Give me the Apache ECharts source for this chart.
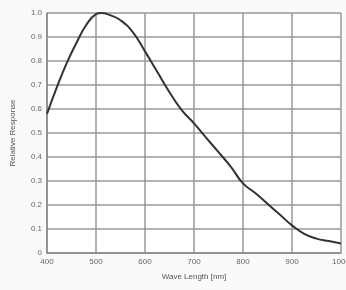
<!DOCTYPE html>
<html>
<head>
<meta charset="utf-8">
<script src="https://cdn.jsdelivr.net/npm/echarts@6/dist/echarts.min.js"></script>
<style>
  html, body { margin: 0; padding: 0; background: #fafafa; }
  #chart { width: 346px; height: 290px; }
</style>
</head>
<body>
<div id="chart"></div>
<script>
// wavelength (nm) and relative response
var waveLength = [400, 420, 440, 460, 480, 500, 510, 530, 550, 575, 600, 625, 650, 675, 700, 725, 750, 775, 800, 825, 850, 875, 900, 925, 950, 975, 1000];
var response = [0.58, 0.69, 0.79, 0.875, 0.95, 0.995, 1.0, 0.99, 0.97, 0.92, 0.84, 0.755, 0.67, 0.595, 0.54, 0.48, 0.42, 0.36, 0.29, 0.25, 0.205, 0.16, 0.115, 0.08, 0.06, 0.05, 0.04];
var yTickLabels = ['0', '0.1', '0.2', '0.3', '0.4', '0.5', '0.6', '0.7', '0.8', '0.9', '1.0'];

var points = [];
for (var i = 0; i < waveLength.length; i++) {
  points.push([waveLength[i], response[i]]);
}

var chart = echarts.init(document.getElementById('chart'));
chart.setOption({
  animation: false,
  grid: {
    left: 47, right: 5, top: 13, bottom: 37,
    outerBoundsMode: 'none', containLabel: false,
    backgroundColor: '#fff', show: true, borderWidth: 0
  },
  xAxis: {
    type: 'value', min: 400, max: 1000, interval: 100,
    name: 'Wave Length [nm]', nameLocation: 'middle', nameGap: 20,
    nameTextStyle: { color: '#555', fontSize: 8, fontFamily: 'Liberation Sans' },
    axisLine: { lineStyle: { color: '#888', width: 1.5 } },
    axisTick: { show: false },
    axisLabel: {
      color: '#666', fontSize: 8, fontFamily: 'Liberation Sans', margin: 5,
      formatter: function (v) { return String(v); }
    },
    splitLine: { lineStyle: { color: '#999', width: 1.5 } }
  },
  yAxis: {
    type: 'value', min: 0, max: 1, interval: 0.1,
    name: 'Relative Response', nameLocation: 'middle', nameGap: 30,
    nameTextStyle: { color: '#555', fontSize: 8, fontFamily: 'Liberation Sans' },
    axisLine: { show: true, lineStyle: { color: '#888', width: 1.5 } },
    axisTick: { show: false },
    axisLabel: {
      color: '#666', fontSize: 8, fontFamily: 'Liberation Sans', margin: 5,
      formatter: function (v) { return yTickLabels[Math.round(v * 10)]; }
    },
    splitLine: { lineStyle: { color: '#999', width: 1.5 } }
  },
  series: [{
    type: 'line',
    data: points,
    smooth: 0.5,
    showSymbol: false,
    lineStyle: { color: '#333', width: 2 }
  }]
});
</script>
</body>
</html>
